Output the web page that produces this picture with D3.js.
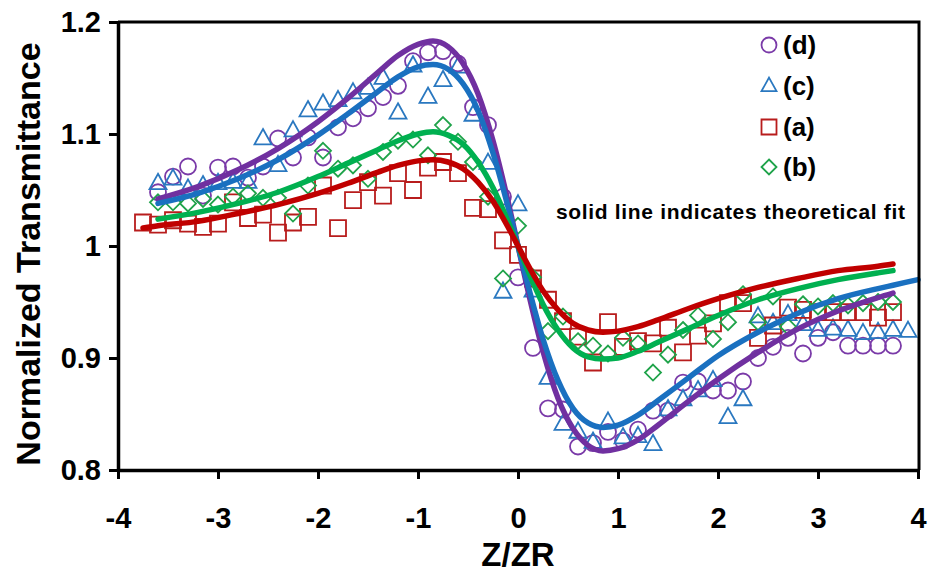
<!DOCTYPE html>
<html>
<head>
<meta charset="utf-8">
<script src="https://cdn.jsdelivr.net/npm/d3@7"></script>
<style>
  body { margin: 0; background: #fff; }
  svg { display: block; }
  text { font-family: "Liberation Sans", Arial, sans-serif; font-weight: bold; fill: #000; }
</style>
</head>
<body>
<svg id="chart" width="932" height="577"></svg>
<script>
// Z/ZR positions of the measured points (shared by every sample)
const zGrid = [-3.75,-3.6,-3.45,-3.3,-3.15,-3.0,-2.85,-2.7,-2.55,-2.4,-2.25,-2.1,-1.95,-1.8,-1.65,-1.5,-1.35,-1.2,-1.05,-0.9,-0.75,-0.6,-0.45,-0.3,-0.15,0,0.15,0.3,0.45,0.6,0.75,0.9,1.05,1.2,1.35,1.5,1.65,1.8,1.95,2.1,2.25,2.4,2.55,2.7,2.85,3.0,3.15,3.3,3.45,3.6,3.75,3.9];

// Measured normalized transmittance (null = no point at that position)
const measuredA = [1.021,1.019,1.023,1.020,1.017,1.020,1.039,1.025,1.028,1.012,1.021,1.026,1.054,1.016,1.041,1.057,1.045,1.065,1.050,1.070,1.075,1.065,1.034,1.033,1.005,0.992,0.971,0.952,0.933,0.919,0.896,0.932,0.910,0.915,0.913,0.927,0.905,0.920,0.931,0.949,0.949,0.918,0.929,0.945,0.943,0.941,0.941,0.941,0.941,0.936,0.941,null];
const measuredB = [null,1.039,1.039,1.038,1.042,1.037,1.044,1.047,1.043,1.043,1.029,1.054,1.085,1.069,1.072,1.060,1.084,1.094,1.095,1.081,1.108,1.093,1.075,1.044,0.971,1.018,0.972,0.924,0.937,0.915,0.911,0.904,0.918,0.913,0.887,0.903,0.925,0.938,0.917,0.932,0.957,0.932,0.955,0.928,0.948,0.946,0.949,0.947,0.949,0.950,0.950,null];
const measuredC = [null,1.056,1.060,1.051,1.054,1.056,1.057,1.057,1.096,1.072,1.103,1.121,1.127,1.130,1.137,1.141,1.150,1.119,1.161,1.133,1.148,1.160,1.117,1.074,0.959,1.037,0.960,0.882,0.841,0.834,0.825,0.843,0.829,0.830,0.823,0.854,0.863,0.871,0.880,0.847,0.863,0.937,0.931,0.939,0.930,0.925,0.926,0.925,0.922,0.923,0.925,0.924];
const measuredD = [null,1.048,1.062,1.071,1.045,1.070,1.071,1.061,1.071,1.096,1.079,1.097,1.079,1.106,1.114,1.123,1.133,1.143,1.165,1.173,1.174,1.163,1.124,1.108,1.044,0.972,0.909,0.855,0.854,0.821,0.824,0.834,0.826,0.836,0.853,0.853,0.878,0.879,0.871,0.871,0.879,0.900,0.910,0.918,0.904,0.918,0.923,0.911,0.911,0.911,0.911,null];

// Theoretical fit curves, sampled along Z/ZR
const fitZ = [-3.75,-3.6,-3.2,-2.8,-2.4,-2.0,-1.7,-1.4,-1.2,-1.0,-0.85,-0.7,-0.55,-0.4,-0.25,-0.1,0,0.1,0.25,0.4,0.55,0.7,0.85,1.0,1.2,1.4,1.7,2.0,2.4,2.8,3.2,3.6,3.75,4.0];
const fitA = [1.016,1.018,1.022,1.029,1.037,1.047,1.056,1.066,1.072,1.076,1.077,1.075,1.069,1.057,1.040,1.017,1.000,0.983,0.960,0.943,0.931,0.925,0.923,0.924,0.928,0.934,0.944,0.953,0.963,0.971,0.978,0.982,0.984,null];
const fitB = [null,1.024,1.030,1.038,1.048,1.062,1.074,1.086,1.094,1.100,1.102,1.099,1.091,1.075,1.052,1.022,1.000,0.978,0.948,0.925,0.909,0.901,0.899,0.900,0.906,0.914,0.926,0.938,0.952,0.962,0.970,0.976,0.978,null];
const fitC = [null,1.038,1.047,1.060,1.077,1.099,1.118,1.138,1.151,1.160,1.162,1.158,1.145,1.121,1.083,1.035,1.000,0.965,0.917,0.880,0.855,0.842,0.838,0.840,0.849,0.862,0.882,0.902,0.923,0.940,0.953,0.962,0.965,0.970];
const fitD = [null,1.042,1.053,1.068,1.087,1.111,1.132,1.155,1.170,1.180,1.183,1.178,1.163,1.136,1.094,1.040,1.000,0.960,0.906,0.864,0.837,0.822,0.817,0.819,0.827,0.840,0.861,0.881,0.905,0.926,0.942,0.954,0.958,null];

// Axis ticks
const xTicks = [-4,-3,-2,-1,0,1,2,3,4];
const yTicks = [0.8,0.9,1.0,1.1,1.2];
const yTickLabels = ["0.8","0.9","1","1.1","1.2"];

// Legend entries (drawn top to bottom)
const legendLabels = ["(d)","(c)","(a)","(b)"];

const svg = d3.select("#chart");
const plot = { left: 118, right: 919, top: 22, bottom: 470 };

const x = d3.scaleLinear().domain([-4, 4]).range([plot.left, 918]);
const y = d3.scaleLinear().domain([0.8, 1.2]).range([plot.bottom, plot.top]);

// Marker shapes
const shapes = {
  circle: r => `M${r},0A${r},${r} 0 1,1 ${-r},0A${r},${r} 0 1,1 ${r},0Z`,
  triangle: s => { const h = s * 0.9; return `M0,${-h*0.62}L${s/2},${h*0.38}L${-s/2},${h*0.38}Z`; },
  square: s => `M${-s/2},${-s/2}H${s/2}V${s/2}H${-s/2}Z`,
  diamond: s => `M0,${-s/2}L${s/2},0L0,${s/2}L${-s/2},0Z`
};

const series = [
  { label: legendLabels[0], values: measuredD, fit: fitD, shape: "circle",   size: 8,  color: "#7a3aa8", line: "#7030a0" },
  { label: legendLabels[1], values: measuredC, fit: fitC, shape: "triangle", size: 17, color: "#2a78c0", line: "#1a70c0" },
  { label: legendLabels[2], values: measuredA, fit: fitA, shape: "square",   size: 16, color: "#b81c1c", line: "#c00000" },
  { label: legendLabels[3], values: measuredB, fit: fitB, shape: "diamond",  size: 16, color: "#1fa34a", line: "#00b050" }
];

// Measured points
const markers = svg.append("g");
series.forEach(s => {
  const pts = zGrid.map((z, i) => ({ z, v: s.values[i] })).filter(d => d.v !== null);
  markers.append("g").selectAll("path").data(pts).join("path")
    .attr("transform", d => `translate(${x(d.z)},${y(d.v)})`)
    .attr("d", shapes[s.shape](s.size))
    .attr("fill", "none")
    .attr("stroke", s.color)
    .attr("stroke-width", 1.8);
});

// Fit curves
const lineGen = d3.line()
  .defined(d => d.v !== null)
  .x(d => x(d.z)).y(d => y(d.v))
  .curve(d3.curveMonotoneX);
const fitOrder = [0, 1, 3, 2];
fitOrder.forEach(k => {
  const s = series[k];
  svg.append("path")
    .datum(fitZ.map((z, i) => ({ z, v: s.fit[i] })))
    .attr("d", lineGen)
    .attr("fill", "none")
    .attr("stroke", s.line)
    .attr("stroke-width", 5.5)
    .attr("stroke-linecap", "round");
});

// Plot frame (top and right edges)
svg.append("path")
  .attr("d", `M${plot.left},${plot.top}H${plot.right}V${plot.bottom}`)
  .attr("fill", "none").attr("stroke", "#000").attr("stroke-width", 3);

// Axes
const xAxis = svg.append("g").attr("transform", `translate(0,${plot.bottom})`)
  .call(d3.axisBottom(x).tickValues(xTicks).tickFormat(d3.format("d")).tickSize(9).tickSizeOuter(0).tickPadding(28));
const yAxis = svg.append("g").attr("transform", `translate(${plot.left},0)`)
  .call(d3.axisLeft(y).tickValues(yTicks).tickFormat((d, i) => yTickLabels[i]).tickSize(9).tickSizeOuter(0).tickPadding(8));

[xAxis, yAxis].forEach(a => {
  a.select(".domain").attr("stroke", "#000").attr("stroke-width", 3.5);
  a.selectAll(".tick line").attr("stroke", "#000").attr("stroke-width", 3);
  a.selectAll(".tick text").style("font-size", "29px").style("font-family", "'Liberation Sans', Arial, sans-serif").style("font-weight", "bold").attr("fill", "#000");
});
xAxis.selectAll(".tick text").text(d => d < 0 ? "-" + Math.abs(d) : d);

// Axis titles
svg.append("text")
  .attr("transform", `translate(40,${(plot.top + plot.bottom) / 2 + 8}) rotate(-90)`)
  .attr("text-anchor", "middle")
  .style("font-size", "34px")
  .text("Normalized Transmittance");
svg.append("text")
  .attr("x", x(0)).attr("y", 566)
  .attr("text-anchor", "middle")
  .style("font-size", "33px")
  .text("Z/ZR");

// Legend
const legendY = [45, 86, 127, 167];
series.forEach((s, i) => {
  svg.append("path")
    .attr("transform", `translate(769,${legendY[i]})`)
    .attr("d", shapes[s.shape](s.shape === "circle" ? 7.5 : 15))
    .attr("fill", "none").attr("stroke", s.color).attr("stroke-width", 1.8);
  svg.append("text")
    .attr("x", 783).attr("y", legendY[i] + 9)
    .style("font-size", "26px")
    .text(s.label);
});

// Note about the curves
svg.append("text")
  .attr("x", 556).attr("y", 219)
  .style("font-size", "21px")
  .attr("textLength", 349)
  .text("solid line indicates theoretical fit");
</script>
</body>
</html>
